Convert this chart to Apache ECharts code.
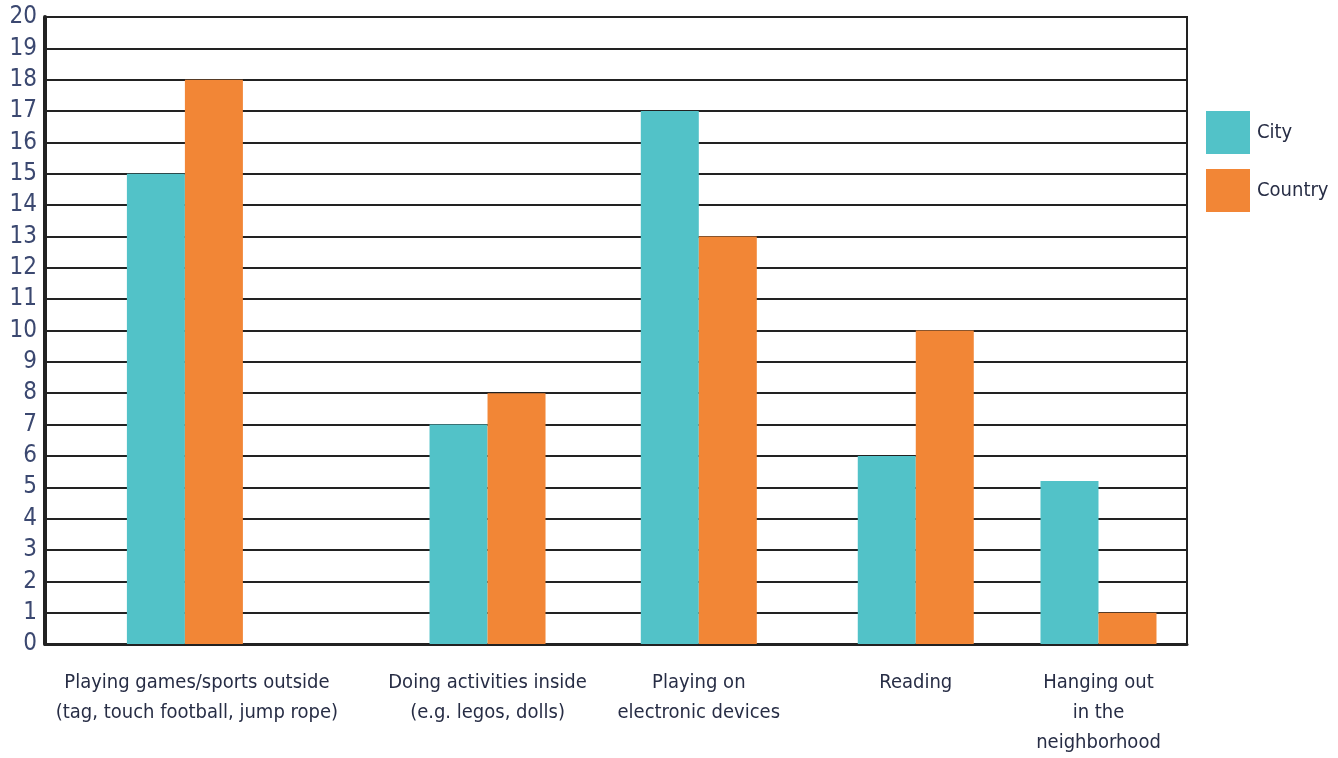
<!DOCTYPE html>
<html>
<head>
<meta charset="utf-8">
<script src="https://cdn.jsdelivr.net/npm/echarts@6/dist/echarts.min.js"></script>
<style>
  html, body { margin: 0; padding: 0; background: #fff; }
  #chart { width: 1338px; height: 758px; }
</style>
</head>
<body>
<div id="chart"></div>
<script>
// Activity categories and the number of kids choosing each one
const categories = [
  'Playing games/sports outside\n(tag, touch football, jump rope)',
  'Doing activities inside\n(e.g. legos, dolls)',
  'Playing on\nelectronic devices',
  'Reading',
  'Hanging out\nin the\nneighborhood'
];
const cityValues = [15, 7, 17, 6, 5.2];
const countryValues = [18, 8, 13, 10, 1];
const yTicks = [0, 1, 2, 3, 4, 5, 6, 7, 8, 9, 10, 11, 12, 13, 14, 15, 16, 17, 18, 19, 20];

// The groups sit at uneven positions along the axis, so the axis is split
// into fine slots and each activity is placed in one of them.
const SLOT_COUNT = 200;
const groupSlots = [24, 77, 114, 152, 184];
// The first label sits a little right of its bars
const labelShift = [12, 0, 0, 0, 0];

const slotNames = [];
const slotIndex = {};
for (let i = 0; i < SLOT_COUNT; i++) slotNames.push('s' + i);
groupSlots.forEach((s, k) => { slotIndex['s' + s] = k; });

function spread(values) {
  const out = new Array(SLOT_COUNT).fill(null);
  groupSlots.forEach((s, k) => { out[s] = values[k]; });
  return out;
}

const FONT = '"DejaVu Sans Condensed", "Liberation Sans Narrow", "Noto Sans", sans-serif';
const rich = {};
labelShift.forEach((d, k) => {
  rich['g' + k] = { fontFamily: FONT, fontSize: 20, lineHeight: 30, color: '#272d45', align: 'center', padding: [0, 0, 0, d * 2] };
});

const chart = echarts.init(document.getElementById('chart'));
chart.setOption({
  animation: false,
  backgroundColor: '#ffffff',
  grid: {
    left: 45, right: 151, top: 17, bottom: 110,
    show: true, borderColor: '#222', borderWidth: 2, backgroundColor: 'transparent'
  },
  legend: {
    orient: 'vertical',
    left: 1206, top: 111, padding: 0,
    itemWidth: 44, itemHeight: 43, itemGap: 15,
    icon: 'rect',
    textStyle: { fontFamily: FONT, fontSize: 20, color: '#272d45', padding: [0, 0, 0, 2] },
    data: ['City', 'Country']
  },
  xAxis: {
    type: 'category',
    data: slotNames,
    axisLine: { show: true, lineStyle: { color: '#222', width: 3 } },
    axisTick: { show: false },
    axisLabel: {
      interval: 0,
      margin: 24,
      fontFamily: FONT, fontSize: 20, lineHeight: 30,
      color: '#272d45', align: 'center',
      rich: rich,
      formatter: v => {
        const k = slotIndex[v];
        if (k === undefined) return '';
        return categories[k].split('\n').map(line => '{g' + k + '|' + line + '}').join('\n');
      }
    },
    splitLine: { show: false }
  },
  yAxis: {
    type: 'value',
    min: yTicks[0], max: yTicks[yTicks.length - 1], interval: 1,
    axisLine: { show: true, lineStyle: { color: '#222', width: 4 } },
    axisTick: { show: false },
    axisLabel: { fontFamily: FONT, fontSize: 24, color: '#3b4870', margin: 8 },
    splitLine: { show: true, lineStyle: { color: '#222', width: 2 } }
  },
  series: [
    {
      name: 'City', type: 'bar', data: spread(cityValues),
      barWidth: 58, barGap: '0%',
      itemStyle: { color: '#52c2c8' }
    },
    {
      name: 'Country', type: 'bar', data: spread(countryValues),
      barWidth: 58, barGap: '0%',
      itemStyle: { color: '#f28636' }
    }
  ]
});
</script>
</body>
</html>
